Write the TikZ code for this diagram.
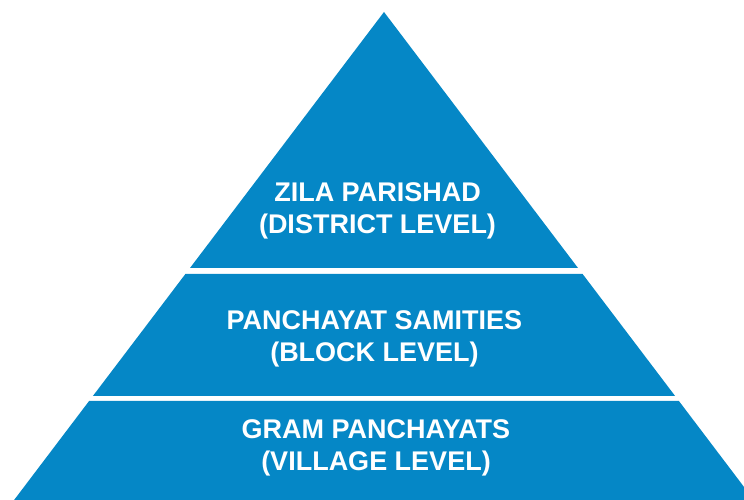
\documentclass[tikz,border=0pt]{standalone}
\usepackage{fontspec}
\setmainfont{Liberation Sans}
\usepackage{tikz}
\definecolor{PyramidBlue}{HTML}{0587C6}
\tikzstyle{level} = [fill=PyramidBlue]
\tikzstyle{label} = [text=white, align=center, font=\bfseries\fontsize{27}{32}\selectfont]

\begin{document}
\begin{tikzpicture}[x=1pt,y=1pt]

	\useasboundingbox (0,0) rectangle (744,500);
	\clip (0,0) rectangle (744,500);

	% Top level
	\coordinate (apex) at (384,488);
	\fill[level] (apex) -- (190,232) -- (578,232) -- cycle;
	% Middle level
	\fill[level] (185.4,226) -- (582.6,226) -- (675.1,104) -- (92.9,104) -- cycle;
	% Bottom level (runs past the page)
	\fill[level] (89.1,99) -- (678.9,99) -- (753.9,0) -- (14.1,0) -- cycle;

	\node[label] (zila) at (377.5,289) {ZILA PARISHAD\\(DISTRICT LEVEL)};
	\node[label] (samiti) at (374.5,161.5) {PANCHAYAT SAMITIES\\(BLOCK LEVEL)};
	\node[label] (gram) at (376,52.5) {GRAM PANCHAYATS\\(VILLAGE LEVEL)};

\end{tikzpicture}
\end{document}
